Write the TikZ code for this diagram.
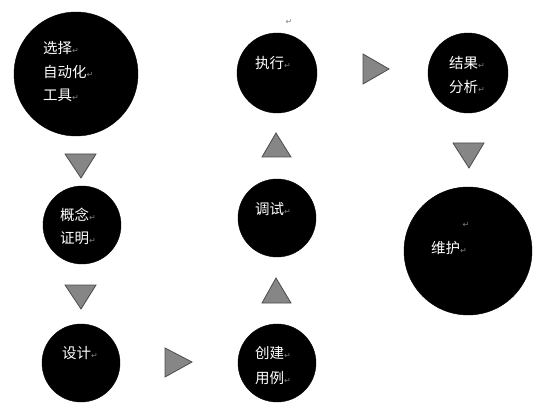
\documentclass[tikz,border=0pt]{standalone}
\usepackage{fontspec}
\newfontfamily\cjk{Noto Sans CJK SC}
\newfontfamily\dejavu{DejaVu Sans}
\newcommand{\rmk}{{\dejavu\fontsize{8}{8}\selectfont\color{gray}↵}}
\tikzset{
  disc/.style={circle, fill=black, draw=black, inner sep=0pt, minimum size=#1},
  lbl/.style={anchor=west, inner sep=0pt, text=white, font=\cjk\fontsize{14.5}{16}\selectfont},
  tri/.style={fill=gray!95, draw=black!70, line width=0.8pt, line join=miter}
}
\begin{document}
\begin{tikzpicture}[x=1pt,y=-1pt]
\useasboundingbox (0,0) rectangle (548,411);
% circles
\node[disc=124pt] (c1) at (76,74) {};
\node[disc=80pt] (c2) at (277,73) {};
\node[disc=80pt] (c3) at (468,73) {};
\node[disc=128pt] (c4) at (468,251) {};
\node[disc=78pt] (c5) at (82,225) {};
\node[disc=78pt] (c6) at (81,363) {};
\node[disc=78pt] (c7) at (277,363) {};
\node[disc=78pt] (c8) at (277,218) {};
% texts
\node[lbl] (t1a) at (43,48) {选择\rmk};
\node[lbl] (t1b) at (43,72) {自动化\rmk};
\node[lbl] (t1c) at (43,95) {工具\rmk};
\node[lbl] (t2) at (255,63) {执行\rmk};
\node[inner sep=0pt] (m2) at (289,22) {\rmk};
\node[lbl] (t3a) at (449,63) {结果\rmk};
\node[lbl] (t3b) at (449,87) {分析\rmk};
\node[inner sep=0pt] (m4) at (466,225) {\rmk};
\node[lbl] (t4) at (431,248) {维护\rmk};
\node[lbl] (t5a) at (60,215) {概念\rmk};
\node[lbl] (t5b) at (60,238) {证明\rmk};
\node[lbl] (t6) at (62,353) {设计\rmk};
\node[lbl] (t7a) at (255,353) {创建\rmk};
\node[lbl] (t7b) at (255,378) {用例\rmk};
\node[lbl] (t8) at (255,209) {调试\rmk};
% triangles
\path[tri] (65,154) -- (96,154) -- (81,178) -- cycle;
\path[tri] (65,285) -- (96,285) -- (81,309) -- cycle;
\path[tri] (165,348) -- (165,377) -- (192,362) -- cycle;
\path[tri] (262,303) -- (291,303) -- (276,278) -- cycle;
\path[tri] (262,157) -- (291,157) -- (276,133) -- cycle;
\path[tri] (363,54) -- (363,84) -- (389,69) -- cycle;
\path[tri] (453,143) -- (484,143) -- (469,168) -- cycle;
\end{tikzpicture}
\end{document}
